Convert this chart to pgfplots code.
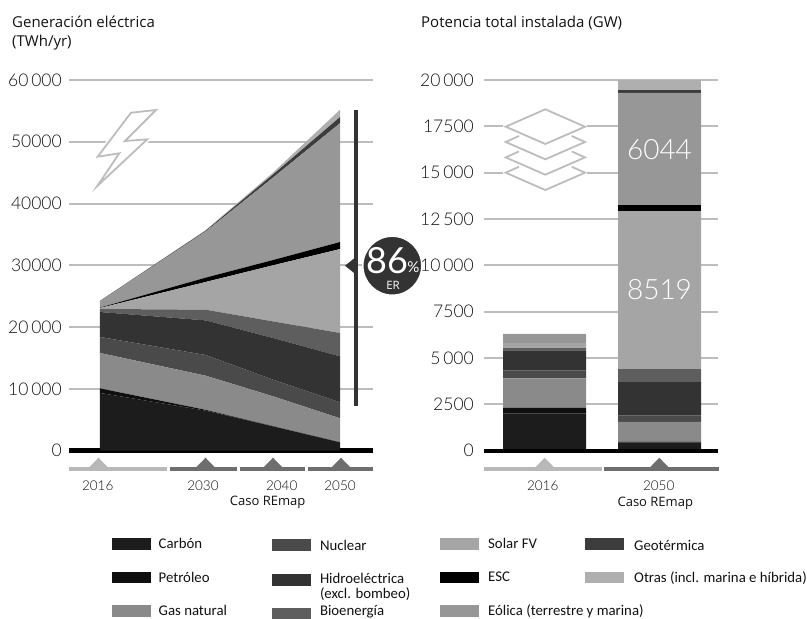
\documentclass[border=0pt]{standalone}
\usepackage{fontspec}
\setmainfont{Open Sans}
\newfontfamily\lightfont{Lato Light}
\newfontfamily\regfont{Lato}
\newfontfamily\legendfont{Carlito}
\usepackage{pgfplots}
\pgfplotsset{compat=1.18}

\definecolor{cCarbon}{HTML}{1C1C1C}
\definecolor{cPetroleo}{HTML}{0F0F0F}
\definecolor{cGas}{HTML}{8A8A8A}
\definecolor{cNuclear}{HTML}{4A4A4A}
\definecolor{cHidro}{HTML}{333333}
\definecolor{cBio}{HTML}{5E5E5E}
\definecolor{cSolar}{HTML}{A5A5A5}
\definecolor{cESC}{HTML}{000000}
\definecolor{cEolica}{HTML}{979797}
\definecolor{cGeo}{HTML}{3C3C3C}
\definecolor{cOtras}{HTML}{AFAFAF}
\definecolor{cGrid}{HTML}{BDBDBD}
\definecolor{cStripL}{HTML}{B8B8B8}
\definecolor{cStripD}{HTML}{6E6E6E}
\definecolor{cText}{HTML}{111111}

\pgfplotsset{
  panel/.style={
    scale only axis,
    clip=false,
    axis line style={draw=none},
    tick style={draw=none},
    scaled y ticks=false,
    ymajorgrids,
    grid style={line width=2pt,color=cGrid},
    major grid style={line width=2pt,color=cGrid},
    yticklabel style={font=\lightfont\fontsize{17.5}{17.5}\selectfont,color=cText,anchor=east,inner sep=0pt},
    xticklabel style={font=\lightfont\fontsize{13.5}{13.5}\selectfont,color=cText,anchor=center,inner sep=0pt,yshift=-35pt},
  },
  band/.style={fill=#1,draw=none,area legend},
}

\begin{document}
\begin{tikzpicture}
\begin{scope}[x=1pt,y=-1pt]
  \path[use as bounding box] (0,0) rectangle (807,619);
\end{scope}

% Electricity generation, stacked by source (increments in TWh/yr)
\begin{axis}[panel,
  at={(69pt,-450.6pt)},anchor=south west,
  width=304pt,height=370.6pt,
  xmin=69,xmax=373,ymin=0,ymax=60000,
  stack plots=y,
  ytick={0,10000,20000,30000,40000,50000,60000},
  yticklabels={0,10\,000,20\,000,30000,40000,50000,60\,000},
  yticklabel style={xshift=-7pt},
  xtick={97.7,203,281.7,340},
  xticklabels={2016,2030,2040,2050},
]
\addplot[band=cCarbon]   coordinates {(100,9340)(205.7,6470)(273,3930)(340,1340)} \closedcycle;
\addplot[band=cPetroleo] coordinates {(100,740)(205.7,130)(273,20)(340,0)} \closedcycle;
\addplot[band=cGas]      coordinates {(100,5720)(205.7,5530)(273,4840)(340,3890)} \closedcycle;
\addplot[band=cNuclear]  coordinates {(100,2600)(205.7,3350)(273,2700)(340,2590)} \closedcycle;
\addplot[band=cHidro]    coordinates {(100,4040)(205.7,5600)(273,6740)(340,7440)} \closedcycle;
\addplot[band=cBio]      coordinates {(100,490)(205.7,1735)(273,2690)(340,3780)} \closedcycle;
\addplot[band=cSolar]    coordinates {(100,160)(205.7,4485)(273,9080)(340,13590)} \closedcycle;
\addplot[band=cESC]      coordinates {(100,60)(205.7,700)(273,850)(340,1140)} \closedcycle;
\addplot[band=cEolica]   coordinates {(100,1000)(205.7,7480)(273,13350)(340,19230)} \closedcycle;
\addplot[band=cGeo]      coordinates {(100,60)(205.7,120)(273,500)(340,1000)} \closedcycle;
\addplot[band=cOtras]    coordinates {(100,60)(205.7,100)(273,300)(340,1180)} \closedcycle;
\draw[black,line width=4.3pt] (axis cs:69,0) -- (axis cs:373,0);
\end{axis}

% Installed capacity, stacked bars (GW)
\begin{axis}[panel,
  at={(484pt,-450.6pt)},anchor=south west,
  width=234pt,height=370.6pt,
  xmin=484,xmax=718,ymin=0,ymax=20000,
  ybar stacked,bar width=83pt,
  ytick={0,2500,5000,7500,10000,12500,15000,17500,20000},
  yticklabels={0,2500,5\,000,7500,10\,000,12\,500,15\,000,17500,20\,000},
  yticklabel style={xshift=-10pt},
  xtick={542.7,658.7},
  xticklabels={2016,2050},
]
\addplot[fill=cCarbon,draw=none]   coordinates {(544.5,1995)(659.5,430)};
\addplot[fill=cPetroleo,draw=none] coordinates {(544.5,305)(659.5,40)};
\addplot[fill=cGas,draw=none]      coordinates {(544.5,1600)(659.5,1080)};
\addplot[fill=cNuclear,draw=none]  coordinates {(544.5,410)(659.5,340)};
\addplot[fill=cHidro,draw=none]    coordinates {(544.5,1100)(659.5,1810)};
\addplot[fill=cBio,draw=none]      coordinates {(544.5,120)(659.5,700)};
\addplot[fill=cSolar,draw=none]    coordinates {(544.5,290)(659.5,8519)};
\addplot[fill=cESC,draw=none]      coordinates {(544.5,0)(659.5,340)};
\addplot[fill=cEolica,draw=none]   coordinates {(544.5,480)(659.5,6044)};
\addplot[fill=cGeo,draw=none]      coordinates {(544.5,0)(659.5,160)};
\addplot[fill=cOtras,draw=none]    coordinates {(544.5,0)(659.5,537)};
\end{axis}

\begin{scope}[x=1pt,y=-1pt]
  % Baseline of the capacity panel and the values written on its bars
  \fill[black] (484,448.5) rectangle (718,452.8);
  \node[white,inner sep=0pt,font=\lightfont\fontsize{28}{28}\selectfont] at (659.5,150) {6044};
  \node[white,inner sep=0pt,font=\lightfont\fontsize{28}{28}\selectfont] at (659.5,290) {8519};

  % Titles
  \node[anchor=base west,inner sep=0pt,font=\fontsize{15}{15}\selectfont,color=cText] at (12,27.5) {Generación eléctrica};
  \node[anchor=base west,inner sep=0pt,font=\fontsize{15}{15}\selectfont,color=cText] at (12,46) {(TWh/yr)};
  \node[anchor=base west,inner sep=0pt,font=\fontsize{15}{15}\selectfont,color=cText] at (421,27.5) {Potencia total instalada (GW)};

  % Period strips under the axes
  \foreach \a/\b/\c/\t in {69/167/cStripL/98.5,170/237/cStripD/205.5,240/305/cStripD/273,308/373/cStripD/341,484/602/cStripL/544.7,604/719/cStripD/659.3}{
    \fill[\c] (\a,466.8) rectangle (\b,471.2);
    \fill[\c] (\t-9,467) -- (\t,457.7) -- (\t+9,467) -- cycle;
  }
  \node[font=\fontsize{13}{13}\selectfont,color=cText] at (267.7,502) {Caso REmap};
  \node[font=\fontsize{13}{13}\selectfont,color=cText] at (655.3,503) {Caso REmap};

  % Lightning bolt
  \draw[fill=white,draw=white,line width=5pt] (131,112.7)--(156,110)--(125,141)--(147.3,139.3)--(97.3,186)--(119.3,153.3)--(97.7,156.7)--cycle;
  \draw[draw=cGrid,line width=1.8pt,line join=miter] (131,112.7)--(156,110)--(125,141)--(147.3,139.3)--(97.3,186)--(119.3,153.3)--(97.7,156.7)--cycle;

  % Stacked layers
  \fill[white] (502.7,123) rectangle (587.3,176);
  \draw[cGrid,line width=1.8pt] (505.7,126.7)--(545.3,109.3)--(585,126.7)--(545.3,144)--cycle;
  \foreach \d in {15.3,30.7,46}{
    \draw[cGrid,line width=1.8pt] (519,120.7+\d)--(505.7,126.7+\d)--(545.3,144+\d)--(585,126.7+\d)--(571.7,120.7+\d);
  }

  % Renewable share marker
  \fill[cHidro] (354,110) rectangle (357.6,405.7);
  \fill[cHidro] (345,265.7)--(355,257.7)--(355,273.7)--cycle;
  \draw[fill=cHidro,draw=white,line width=1.5pt] (392.3,265.7) circle (29.5);
  \node[white,inner sep=0pt,font=\regfont\fontsize{36}{36}\selectfont] at (387,260.5) {86};
  \node[white,inner sep=0pt,font=\regfont\fontsize{15}{15}\selectfont] at (413.5,267) {\%};
  \node[white,inner sep=0pt,font=\fontsize{11.5}{11.5}\selectfont] at (393,285) {ER};

  % Key
  \begin{scope}
  \clip (0,0) rectangle (807,619);
  \foreach \x/\y/\c in {112/538.3/cCarbon,112/571.7/cPetroleo,112/605/cGas,
                        272/539/cNuclear,272/574/cHidro,272/608/cBio,
                        439.6/538.3/cSolar,439.6/571.7/cESC,439.6/605/cEolica,
                        584.7/538.3/cGeo,584.7/571.7/cOtras}{
    \fill[\c] (\x,\y) rectangle (\x+39,\y+11.7);
  }
  \foreach \x/\y/\t in {158.5/543.5/Carbón,158.5/577/Petróleo,158.5/610.5/Gas natural,
                        319.8/545/Nuclear,319.8/578/Hidroeléctrica,319.8/594/(excl. bombeo),319.8/612/Bioenergía,
                        488/543.5/Solar FV,488/577/ESC,488/611/Eólica (terrestre y marina),
                        634/545/Geotérmica,634/578/Otras (incl. marina e híbrida)}{
    \node[anchor=west,inner sep=0pt,font=\legendfont\fontsize{14.8}{14.8}\selectfont,color=cText] at (\x,\y) {\t};
  }
  \end{scope}
\end{scope}
\end{tikzpicture}
\end{document}
